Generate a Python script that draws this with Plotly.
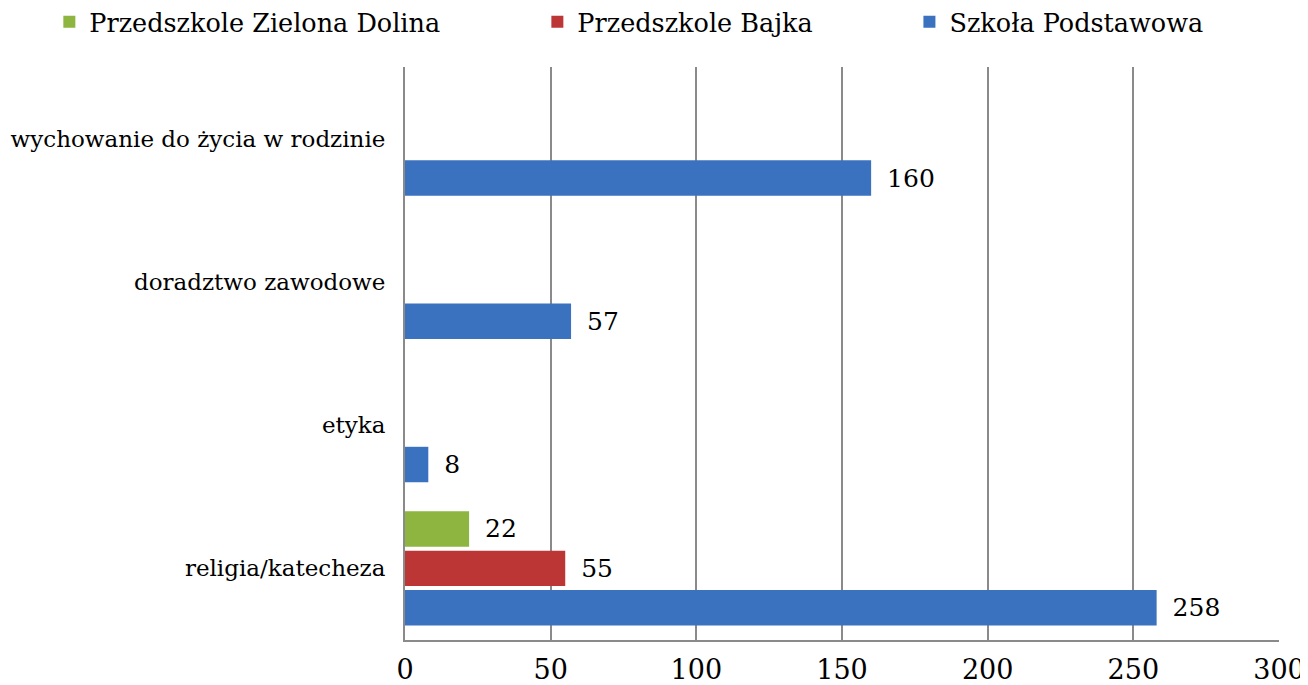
import plotly.graph_objects as go

categories = ["religia/katecheza", "etyka", "doradztwo zawodowe", "wychowanie do życia w rodzinie"]
szkola = [258, 8, 57, 160]
bajka = [55, None, None, None]
zielona = [22, None, None, None]
x_ticks = [0, 50, 100, 150, 200, 250, 300]

FONT = "DejaVu Serif"

fig = go.Figure()
series = [
    ("Szkoła Podstawowa", szkola, "#3A72BF", "legend3"),
    ("Przedszkole Bajka", bajka, "#BD3636", "legend2"),
    ("Przedszkole Zielona Dolina", zielona, "#8DB540", "legend"),
]
for name, vals, col, leg in series:
    fig.add_trace(go.Bar(
        y=categories, x=vals, name=name, orientation="h", legend=leg,
        showlegend=True,
        marker=dict(color=col, line=dict(width=0)),
        text=[(" \u2009" + str(v)) if v is not None else "" for v in vals],
        textposition="outside", cliponaxis=False,
        textfont=dict(family=FONT, size=25, color="#000"),
    ))

def leg_at(x):
    return dict(orientation="h", x=x, xref="container", xanchor="left",
                y=0.979, yref="container", yanchor="middle",
                font=dict(family=FONT, size=25.5, color="#000"), itemwidth=30,
                bgcolor="rgba(0,0,0,0)")

# page body has an 8px margin, so the figure is 8px smaller and offsets shifted
fig.update_layout(
    width=1300, height=677, showlegend=True,
    margin=dict(l=397, r=29, t=59, b=45, autoexpand=False),
    barmode="group", bargap=0.175, bargroupgap=0.1,
    plot_bgcolor="white", paper_bgcolor="white",
    font=dict(family=FONT, size=21, color="#000"),
    legend=leg_at(0.0318), legend2=leg_at(0.4072), legend3=leg_at(0.6934),
    xaxis=dict(range=[0, 300], tickvals=x_ticks, showgrid=True, gridcolor="#8a8a8a",
               gridwidth=1.5, zeroline=False, showline=True, linecolor="#8a8a8a",
               linewidth=1.5, ticklabelstandoff=5, tickfont=dict(size=27),
               automargin=False),
    yaxis=dict(showline=True, linecolor="#8a8a8a", linewidth=2, showgrid=False,
               ticklabelstandoff=13, tickfont=dict(size=23), automargin=False),
)

fig.write_html("out.html")
